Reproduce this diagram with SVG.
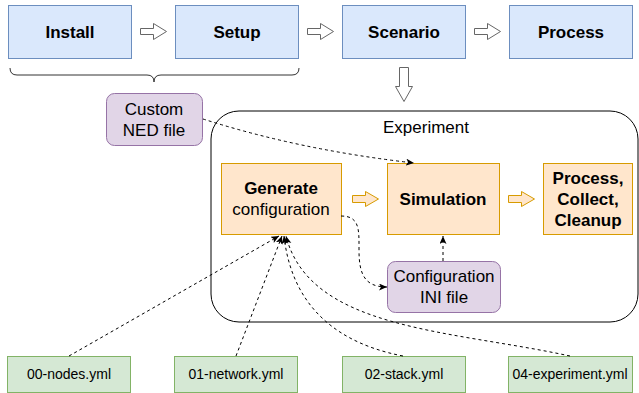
<svg xmlns="http://www.w3.org/2000/svg" width="639" height="393" viewBox="0 0 639 393">
<style>
text{font-family:"Liberation Sans",Arial,sans-serif;fill:#000;text-anchor:middle}
.b{font-weight:bold;font-size:17px}
.r{font-size:17px}
.s{font-size:14px}
.step{fill:#dae8fc;stroke:#6c8ebf;stroke-width:1}
.exp{fill:#ffe6cc;stroke:#d79b00;stroke-width:1}
.file{fill:#e1d5e7;stroke:#9673a6;stroke-width:1}
.yml{fill:#d5e8d4;stroke:#82b366;stroke-width:1}
.garrow{fill:#fff;stroke:#666;stroke-width:1}
.oarrow{fill:#ffe6cc;stroke:#d79b00;stroke-width:1}
.dash{fill:none;stroke:#000;stroke-width:1;stroke-dasharray:3 3;marker-end:url(#ah)}
</style>
<defs>
<marker id="ah" markerUnits="userSpaceOnUse" markerWidth="10" markerHeight="8" refX="8" refY="3.5" orient="auto">
<path d="M0,0 L8,3.5 L0,7 L2,3.5 z" fill="#000"/>
</marker>
</defs>
<rect width="639" height="393" fill="#fff"/>
<g id="experiment">
<rect x="211" y="111" width="427" height="211" rx="28" ry="28" fill="none" stroke="#000" stroke-width="1"/>
<text class="r" x="426" y="133">Experiment</text>
</g>
<g id="install"><rect class="step" x="8.5" y="5.5" width="123" height="53"/><text class="b" x="70" y="38">Install</text></g>
<g id="setup"><rect class="step" x="175.5" y="5.5" width="123" height="53"/><text class="b" x="237" y="38">Setup</text></g>
<g id="scenario"><rect class="step" x="342.5" y="5.5" width="123" height="53"/><text class="b" x="404" y="38">Scenario</text></g>
<g id="process"><rect class="step" x="509.5" y="5.5" width="123" height="53"/><text class="b" x="571" y="38">Process</text></g>
<g id="brace"><path d="M10,68 Q10,75 17,75 L147,75 Q154,75 154,82 Q154,75 161,75 L292,75 Q299,75 299,68" fill="none" stroke="#333" stroke-width="1"/></g>
<g id="custom-ned"><rect class="file" x="106.5" y="93.5" width="96" height="52" rx="8"/><text class="r" x="154" y="115">Custom</text><text class="r" x="154" y="136">NED file</text></g>
<g id="generate"><rect class="exp" x="221.5" y="163.5" width="120" height="71"/><text class="b" x="281" y="194">Generate</text><text class="r" x="281" y="215">configuration</text></g>
<g id="simulation"><rect class="exp" x="387.5" y="163.5" width="112" height="71"/><text class="b" x="443" y="205">Simulation</text></g>
<g id="pcc"><rect class="exp" x="543.5" y="163.5" width="89" height="71"/><text class="b" x="588" y="184">Process,</text><text class="b" x="588" y="205">Collect,</text><text class="b" x="588" y="226">Cleanup</text></g>
<g id="ini"><rect class="file" x="387.5" y="261.5" width="113" height="51" rx="8"/><text class="r" x="444" y="282">Configuration</text><text class="r" x="444" y="303">INI file</text></g>
<g id="nodes"><rect class="yml" x="7.5" y="356.5" width="123" height="36"/><text class="s" x="69" y="379">00-nodes.yml</text></g>
<g id="network"><rect class="yml" x="174.5" y="356.5" width="123" height="36"/><text class="s" x="236" y="379">01-network.yml</text></g>
<g id="stack"><rect class="yml" x="342.5" y="356.5" width="123" height="36"/><text class="s" x="404" y="379">02-stack.yml</text></g>
<g id="experiment-yml"><rect class="yml" x="508.5" y="356.5" width="124" height="36"/><text class="s" x="570" y="379">04-experiment.yml</text></g>
<g id="connectors">
<path class="garrow" d="M140.5,28.5 L153.5,28.5 L153.5,23.5 L166.5,31.5 L153.5,39.5 L153.5,34.5 L140.5,34.5 Z"/>
<path class="garrow" d="M307.5,28.5 L320.5,28.5 L320.5,23.5 L333.5,31.5 L320.5,39.5 L320.5,34.5 L307.5,34.5 Z"/>
<path class="garrow" d="M474.5,28.5 L487.5,28.5 L487.5,23.5 L500.5,31.5 L487.5,39.5 L487.5,34.5 L474.5,34.5 Z"/>
<path class="garrow" d="M399.5,67.5 L408.5,67.5 L408.5,86.5 L412.5,86.5 L404,101.5 L395.5,86.5 L399.5,86.5 Z"/>
<path class="oarrow" d="M352.5,195.5 L365.5,195.5 L365.5,191.5 L378.5,199 L365.5,206.5 L365.5,202.5 L352.5,202.5 Z"/>
<path class="oarrow" d="M508.5,195.5 L521.5,195.5 L521.5,191.5 L534.5,199 L521.5,206.5 L521.5,202.5 L508.5,202.5 Z"/>
<path class="dash" d="M203,119 Q300,150 414,163"/>
<path class="dash" d="M443,261 L443,236"/>
<path class="dash" d="M341,216 C360,216 359,230 359,250 C359,275 365,287 387,287"/>
<path class="dash" d="M69,356 L279,236"/>
<path class="dash" d="M236,356 L282,236"/>
<path class="dash" d="M403,356 C320,340 290,290 284,236"/>
<path class="dash" d="M570,356 C450,330 310,330 286,236"/>
</g>
</svg>
